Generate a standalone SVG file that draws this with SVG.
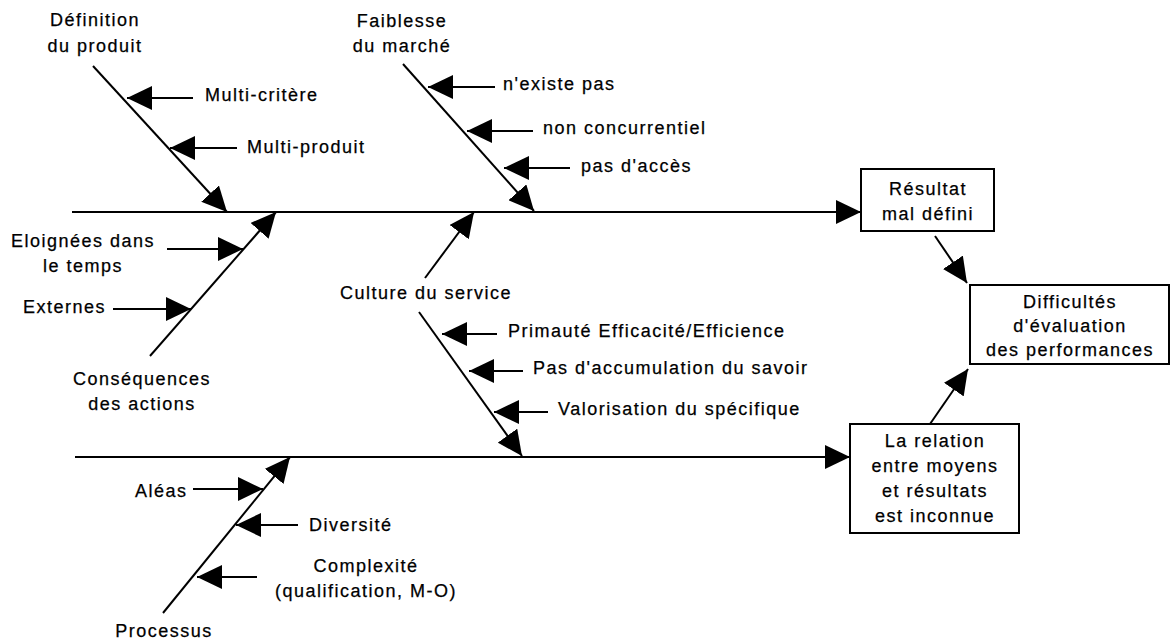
<svg xmlns="http://www.w3.org/2000/svg" width="1176" height="641" viewBox="0 0 1176 641">
<style>
text{font-family:"Liberation Sans",Arial,sans-serif;font-size:18px;letter-spacing:1.5px;fill:#000;stroke:#000;stroke-width:0.25px}
.m{text-anchor:middle}
.c{fill:none;stroke:#000;stroke-width:2;marker-end:url(#ah)}
.b{fill:#fff;stroke:#000;stroke-width:2}
</style>
<defs>
<marker id="ah" markerUnits="userSpaceOnUse" viewBox="0 0 25 24" refX="25" refY="12" markerWidth="25" markerHeight="24" orient="auto">
<path d="M0,0 L25,12 L0,24 z" fill="#000"/>
</marker>
</defs>
<rect width="1176" height="641" fill="#fff"/>
<g id="connectors">
<path class="c" d="M72,212 L861,212"/>
<path class="c" d="M75,457 L850,457"/>
<path class="c" d="M93,66 L227,212"/>
<path class="c" d="M403,64 L534,211"/>
<path class="c" d="M150,356 L276,212"/>
<path class="c" d="M425,278 L474,212"/>
<path class="c" d="M419,312 L522,456"/>
<path class="c" d="M163,613 L290,457"/>
<path class="c" d="M193,98 L127,98"/>
<path class="c" d="M237,148 L170,148"/>
<path class="c" d="M495,87 L428,87"/>
<path class="c" d="M533,131 L467,131"/>
<path class="c" d="M570,168 L504,168"/>
<path class="c" d="M167,249 L243,249"/>
<path class="c" d="M113,309 L191,309"/>
<path class="c" d="M497,334 L442,334"/>
<path class="c" d="M523,371 L469,371"/>
<path class="c" d="M548,412 L494,412"/>
<path class="c" d="M193,489 L263,489"/>
<path class="c" d="M298,525 L236,525"/>
<path class="c" d="M257,577 L197,577"/>
<path class="c" d="M935,236 L967,283"/>
<path class="c" d="M930,424 L968,369"/>
</g>
<g id="definition"><text class="m" x="95" y="26">Définition</text><text class="m" x="95" y="52">du produit</text></g>
<g id="faiblesse"><text class="m" x="402" y="27">Faiblesse</text><text class="m" x="402" y="52">du marché</text></g>
<g id="multi-critere"><text x="205" y="101">Multi-critère</text></g>
<g id="multi-produit"><text x="247" y="153">Multi-produit</text></g>
<g id="nexiste"><text x="503" y="90">n'existe pas</text></g>
<g id="nonconc"><text x="543" y="134">non concurrentiel</text></g>
<g id="pasacces"><text x="581" y="172">pas d'accès</text></g>
<g id="resultat"><rect class="b" x="861" y="169" width="133" height="62"/><text class="m" x="928" y="195">Résultat</text><text class="m" x="928" y="220">mal défini</text></g>
<g id="difficultes"><rect class="b" x="970" y="285" width="199" height="79"/><text class="m" x="1070" y="308">Difficultés</text><text class="m" x="1070" y="332">d'évaluation</text><text class="m" x="1070" y="356">des performances</text></g>
<g id="eloignees"><text class="m" x="83" y="247">Eloignées dans</text><text class="m" x="83" y="272">le temps</text></g>
<g id="externes"><text x="23" y="313">Externes</text></g>
<g id="consequences"><text class="m" x="142" y="385">Conséquences</text><text class="m" x="142" y="410">des actions</text></g>
<g id="culture"><text x="340" y="299">Culture du service</text></g>
<g id="primaute"><text x="508" y="337">Primauté Efficacité/Efficience</text></g>
<g id="accumulation"><text x="533" y="374">Pas d'accumulation du savoir</text></g>
<g id="valorisation"><text x="558" y="415">Valorisation du spécifique</text></g>
<g id="relation"><rect class="b" x="850" y="424" width="169" height="109"/><text class="m" x="935" y="447">La relation</text><text class="m" x="935" y="472">entre moyens</text><text class="m" x="935" y="497">et résultats</text><text class="m" x="935" y="522">est inconnue</text></g>
<g id="aleas"><text x="135" y="497">Aléas</text></g>
<g id="diversite"><text x="309" y="531">Diversité</text></g>
<g id="complexite"><text class="m" x="366" y="572">Complexité</text><text class="m" x="366" y="597">(qualification, M-O)</text></g>
<g id="processus"><text class="m" x="164" y="637">Processus</text></g>
</svg>
